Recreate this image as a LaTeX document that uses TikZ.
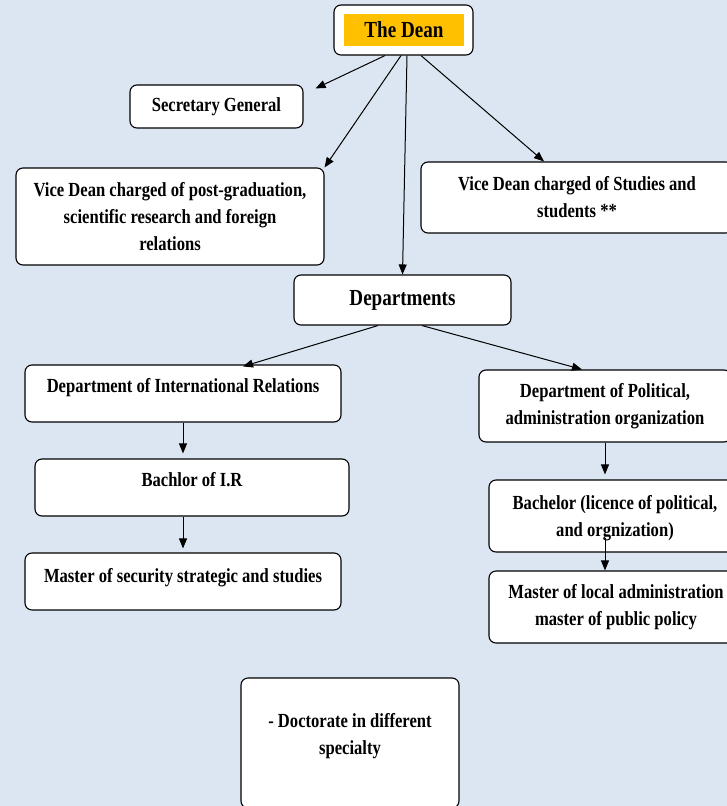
\documentclass[tikz,border=0pt]{standalone}
\usepackage{fontspec}
\setmainfont{Liberation Serif}[FakeStretch=0.83]
\usepackage{tikz}
\usetikzlibrary{arrows.meta,calc}

\definecolor{bgblue}{RGB}{220,230,242}
\definecolor{deanorange}{RGB}{255,192,0}

\tikzset{
	box/.style={draw, fill=white, rounded corners=7pt, line width=1.1pt, align=center,
		inner sep=0pt, font=\bfseries\fontsize{20}{27}\selectfont},
	arr/.style={-{Triangle[length=10pt,width=8pt]}, line width=1pt}
}

\begin{document}
\begin{tikzpicture}[x=1pt,y=-1pt]
\useasboundingbox (0,0) rectangle (727,806);
\fill[bgblue] (0,0) rectangle (727,806);

%the dean and the offices under him
\node[box, minimum width=139pt, minimum height=50pt] (dean) at (403.5,30) {};
\node[fill=deanorange, minimum width=120pt, minimum height=32pt, inner sep=0pt,
	font=\bfseries\fontsize{23}{28}\selectfont] (deanlbl) at (404,30) {The Dean};
\node[box, minimum width=173pt, minimum height=43pt] (sec) at (216.5,106.5) {Secretary General};
\node[box, minimum width=308pt, minimum height=97pt] (vdl) at (170,216.5)
	{Vice Dean charged of post-graduation,\\scientific research and foreign\\relations};
\node[box, minimum width=312pt, minimum height=71pt] (vdr) at (577,197.5)
	{Vice Dean charged of Studies and\\students **};
\node[box, minimum width=217pt, minimum height=50pt,
	font=\bfseries\fontsize{23}{28}\selectfont] (dep) at (402.5,300) {Departments};

%left branch
\node[box, minimum width=316pt, minimum height=57pt, text depth=16pt] (dir) at (183,393.5)
	{Department of International Relations};
\node[box, minimum width=314pt, minimum height=57pt, text depth=16pt] (bir) at (192,487.5)
	{Bachlor of I.R};
\node[box, minimum width=316pt, minimum height=57pt, text depth=13pt] (msec) at (183,581.5)
	{Master of security strategic and studies};

%right branch
\node[box, minimum width=252pt, minimum height=72pt] (dpol) at (605,406)
	{Department of Political,\\administration organization};
\node[box, minimum width=252pt, minimum height=72pt, text depth=1pt] (bpol) at (615,516)
	{Bachelor (licence of political,\\and orgnization)};
\node[box, minimum width=254pt, minimum height=72pt] (mloc) at (616,607)
	{Master of local administration\\master of public policy};

\node[box, minimum width=218pt, minimum height=130pt, text depth=18pt] (doc) at (350,743)
	{- Doctorate in different\\specialty};

%arrows
\draw[arr] ($(dean.south)+(-18.5,0)$) -- ($(sec.north east)+(12,4)$);
\draw[arr] ($(dean.south)+(-2.5,0)$) -- (vdl.north east);
\draw[arr] ($(dean.south)+(3.5,0)$) -- (dep.north);
\draw[arr] ($(dean.south)+(17.5,0)$) -- ($(vdr.north)+(-33,0)$);
\draw[arr] ($(dep.south)+(-24.5,0)$) -- ($(dir.north)+(60,2)$);
\draw[arr] ($(dep.south)+(19.5,0)$) -- ($(dpol.north)+(-23,0)$);
\draw[arr, shorten >=5pt] (dir.south) -- (dir.south |- bir.north);
\draw[arr, shorten >=4pt] (msec.north |- bir.south) -- (msec.north);
\draw[arr, shorten >=5pt] (dpol.south) -- (dpol.south |- bpol.north);
\draw[arr] ($(dpol.south |- bpol.south)+(0,-15)$) -- (dpol.south |- mloc.north);
\end{tikzpicture}
\end{document}
